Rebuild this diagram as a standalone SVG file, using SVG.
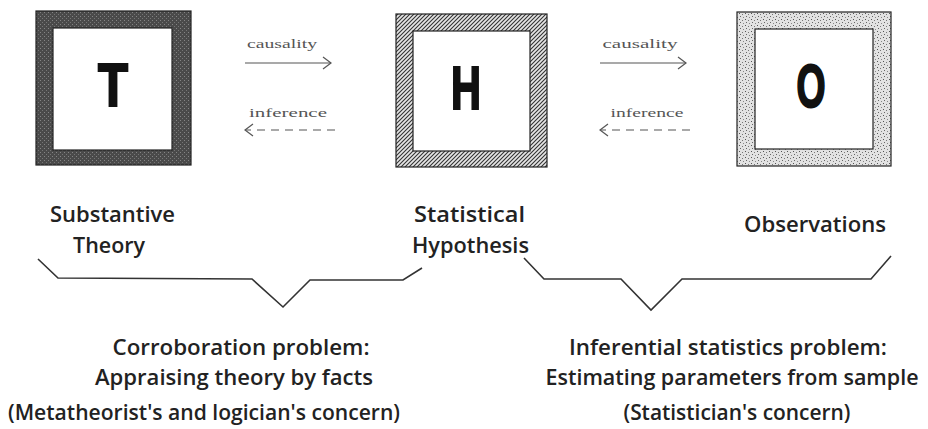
<svg xmlns="http://www.w3.org/2000/svg" width="928" height="429" viewBox="0 0 928 429">
<defs>
<pattern id="dark" width="4" height="4" patternUnits="userSpaceOnUse">
<rect width="4" height="4" fill="#4a4a4a"/>
<rect x="0" y="0" width="1" height="1" fill="#858585"/>
<rect x="2" y="2" width="1" height="1" fill="#757575"/>
</pattern>
<pattern id="hatch" width="4" height="4" patternUnits="userSpaceOnUse">
<rect width="4" height="4" fill="#e6e6e6"/>
<path d="M-1,1 L1,-1 M0,4 L4,0 M3,5 L5,3" stroke="#333" stroke-width="1.1"/>
</pattern>
<pattern id="speckle" width="6" height="6" patternUnits="userSpaceOnUse">
<rect width="6" height="6" fill="#e2e2e2"/>
<rect x="1" y="1" width="1" height="1" fill="#555"/>
<rect x="4" y="2" width="1" height="1" fill="#777"/>
<rect x="2" y="4" width="1" height="1" fill="#666"/>
<rect x="5" y="5" width="1" height="1" fill="#888"/>
</pattern>
<marker id="chev" markerWidth="10" markerHeight="14" refX="9" refY="7" orient="auto" markerUnits="userSpaceOnUse">
<path d="M1,1 L9,7 L1,13" fill="none" stroke="#555" stroke-width="1.2"/>
</marker>
</defs>
<style>
.big{font-family:"Liberation Sans",Arial,sans-serif;font-weight:bold;font-size:61px;fill:#111;stroke:#111;stroke-width:2.2}
.small{font-family:"Liberation Serif","Times New Roman",serif;font-size:13px;fill:#555}
.lab{font-family:"Open Sans","Liberation Sans",sans-serif;font-weight:600;font-size:21px;fill:#222}
.conn{fill:none;stroke:#555;stroke-width:1.2}
.brace{fill:none;stroke:#333;stroke-width:1.6}
.frame{stroke:#222;stroke-width:1.2}
.inner{fill:#fff;stroke:#222;stroke-width:1.2}
</style>
<rect width="928" height="429" fill="#fff"/>

<g id="node-T">
<rect class="frame" x="36" y="11" width="155" height="154" fill="url(#dark)"/>
<rect class="inner" x="53" y="28" width="119" height="122"/>
<text class="big" x="113" y="106" text-anchor="middle" textLength="30" lengthAdjust="spacingAndGlyphs">T</text>
</g>

<g id="node-H">
<rect class="frame" x="396" y="14" width="151" height="153" fill="url(#hatch)"/>
<rect class="inner" x="413" y="31" width="117" height="120"/>
<text class="big" x="466" y="109" text-anchor="middle" textLength="30" lengthAdjust="spacingAndGlyphs">H</text>
</g>

<g id="node-O">
<rect class="frame" x="737" y="12" width="154" height="154" fill="url(#speckle)"/>
<rect class="inner" x="755" y="29" width="118" height="120"/>
<text class="big" x="811" y="107" text-anchor="middle" textLength="29" lengthAdjust="spacingAndGlyphs">O</text>
</g>

<g id="connectors">
<line class="conn" x1="245" y1="63" x2="331" y2="63" marker-end="url(#chev)"/>
<line class="conn" x1="335" y1="130" x2="245" y2="130" stroke-dasharray="8,6" marker-end="url(#chev)"/>
<line class="conn" x1="600" y1="63" x2="686" y2="63" marker-end="url(#chev)"/>
<line class="conn" x1="690" y1="130" x2="600" y2="130" stroke-dasharray="8,6" marker-end="url(#chev)"/>
<text class="small" x="282" y="48" text-anchor="middle" textLength="70" lengthAdjust="spacingAndGlyphs">causality</text>
<text class="small" x="288" y="117" text-anchor="middle" textLength="78" lengthAdjust="spacingAndGlyphs">inference</text>
<text class="small" x="640" y="48" text-anchor="middle" textLength="75" lengthAdjust="spacingAndGlyphs">causality</text>
<text class="small" x="647" y="117" text-anchor="middle" textLength="73" lengthAdjust="spacingAndGlyphs">inference</text>
</g>

<g id="labels">
<text class="lab" x="50" y="222" textLength="125" lengthAdjust="spacingAndGlyphs">Substantive</text>
<text class="lab" x="73" y="253" textLength="72" lengthAdjust="spacingAndGlyphs">Theory</text>
<text class="lab" x="414" y="222" textLength="111" lengthAdjust="spacingAndGlyphs">Statistical</text>
<text class="lab" x="412" y="253" textLength="117" lengthAdjust="spacingAndGlyphs">Hypothesis</text>
<text class="lab" x="744" y="232" textLength="142" lengthAdjust="spacingAndGlyphs">Observations</text>
</g>

<g id="braces">
<polyline class="brace" points="38,259 58,278 252,279 283,307 310,280 403,280 422,268"/>
<polyline class="brace" points="524,258 544,279 621,279 651,310 682,279 871,279 891,256"/>
</g>

<g id="captions">
<text class="lab" x="241" y="355" text-anchor="middle" textLength="257" lengthAdjust="spacingAndGlyphs">Corroboration problem:</text>
<text class="lab" x="234" y="385" text-anchor="middle" textLength="278" lengthAdjust="spacingAndGlyphs">Appraising theory by facts</text>
<text class="lab" x="204" y="420" text-anchor="middle" textLength="392" lengthAdjust="spacingAndGlyphs">(Metatheorist's and logician's concern)</text>
<text class="lab" x="728" y="355" text-anchor="middle" textLength="318" lengthAdjust="spacingAndGlyphs">Inferential statistics problem:</text>
<text class="lab" x="732" y="385" text-anchor="middle" textLength="373" lengthAdjust="spacingAndGlyphs">Estimating parameters from sample</text>
<text class="lab" x="737" y="420" text-anchor="middle" textLength="227" lengthAdjust="spacingAndGlyphs">(Statistician's concern)</text>
</g>
</svg>
